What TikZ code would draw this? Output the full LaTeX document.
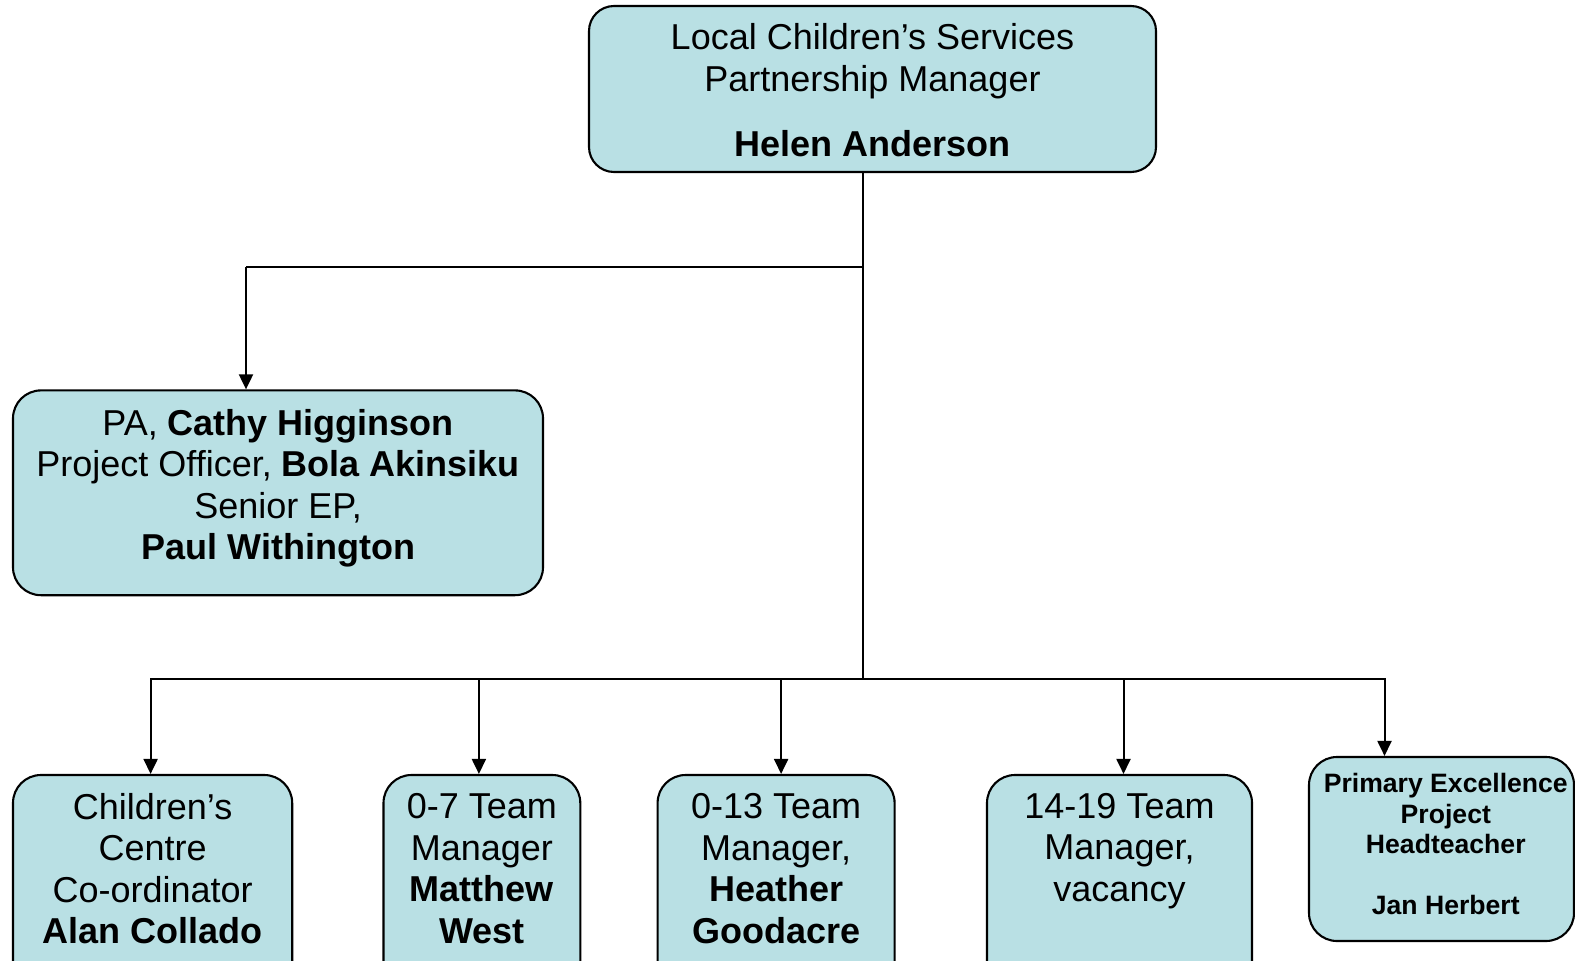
\documentclass[tikz,border=0pt]{standalone}
\usepackage{fontspec}
\setmainfont{Liberation Sans}
\usetikzlibrary{arrows.meta}
\definecolor{boxfill}{RGB}{185,224,228}
\begin{document}
\begin{tikzpicture}[x=1bp,y=-1bp,
 box/.style={draw=black, line width=2.1bp, fill=boxfill, rounded corners=28bp, inner sep=0pt},
 txt/.style={align=center, font=\fontsize{36bp}{41.5bp}\selectfont, inner sep=0pt},
 smalltxt/.style={align=center, font=\fontsize{26.6bp}{30.5bp}\selectfont\bfseries, inner sep=0pt},
 conn/.style={line width=2bp},
 arr/.style={conn, -{Triangle[width=14bp,length=15bp]}}]
\useasboundingbox (0,0) rectangle (1575,960);
\clip (0,0) rectangle (1575,960);

% boxes
\node[box, minimum width=567bp, minimum height=166bp, rounded corners=25bp] (top) at (872.5,89) {};
\node[box, minimum width=530bp, minimum height=204.8bp] (pa) at (278,492.8) {};
\node[box, minimum width=279.2bp, minimum height=228bp] (cc) at (152.6,889) {};
\node[box, minimum width=196.8bp, minimum height=228bp] (t07) at (481.9,889) {};
\node[box, minimum width=237bp, minimum height=228bp] (t013) at (776.1,889) {};
\node[box, minimum width=265bp, minimum height=228bp] (t1419) at (1119.5,889) {};
\node[box, minimum width=265bp, minimum height=184bp] (pe) at (1441.5,849) {};

% texts
\node[txt] (toptxt) at (872.5,90) {Local Children’s Services\\Partnership Manager\\[23.5bp]\textbf{Helen Anderson}};
\node[txt] (patxt) at (278.1,488.5) {PA, \textbf{Cathy Higginson}\\Project Officer, \textbf{Bola Akinsiku}\\Senior EP,\\\textbf{Paul Withington}};
\node[txt] (cctxt) at (152.6,868.5) {Children’s\\Centre\\Co-ordinator\\\textbf{Alan Collado}};
\node[txt] (t07txt) at (481.9,868.5) {0-7 Team\\Manager\\\textbf{Matthew}\\\textbf{West}};
\node[txt] (t013txt) at (776.1,868.5) {0-13 Team\\Manager,\\\textbf{Heather}\\\textbf{Goodacre}};
\node[txt] (t1419txt) at (1119.5,851) {14-19 Team\\Manager,\\vacancy};
\node[smalltxt] (petxt) at (1445.8,844) {Primary Excellence\\Project\\Headteacher\\[30.5bp]Jan Herbert};

% connectors
\coordinate (j1) at (863.4,267);
\coordinate (j2) at (863.4,678.7);
\coordinate (paIn) at (246,267);
\coordinate (hL) at (150.6,678.7);
\coordinate (h07) at (478.9,678.7);
\coordinate (h013) at (781.1,678.7);
\coordinate (h1419) at (1123.5,678.7);
\coordinate (hR) at (1384.5,678.7);

\draw[conn] (top.south -| j2) -- (j2);
\draw[conn] (j1) -- (paIn);
\draw[arr] (paIn) -- (paIn |- pa.north);
\draw[conn, line cap=rect] (hL) -- (hR);
\draw[arr] (hL) -- (hL |- cc.north);
\draw[arr] (h07) -- (h07 |- t07.north);
\draw[arr] (h013) -- (h013 |- t013.north);
\draw[arr] (h1419) -- (h1419 |- t1419.north);
\draw[arr] (hR) -- (hR |- pe.north);
\end{tikzpicture}
\end{document}
